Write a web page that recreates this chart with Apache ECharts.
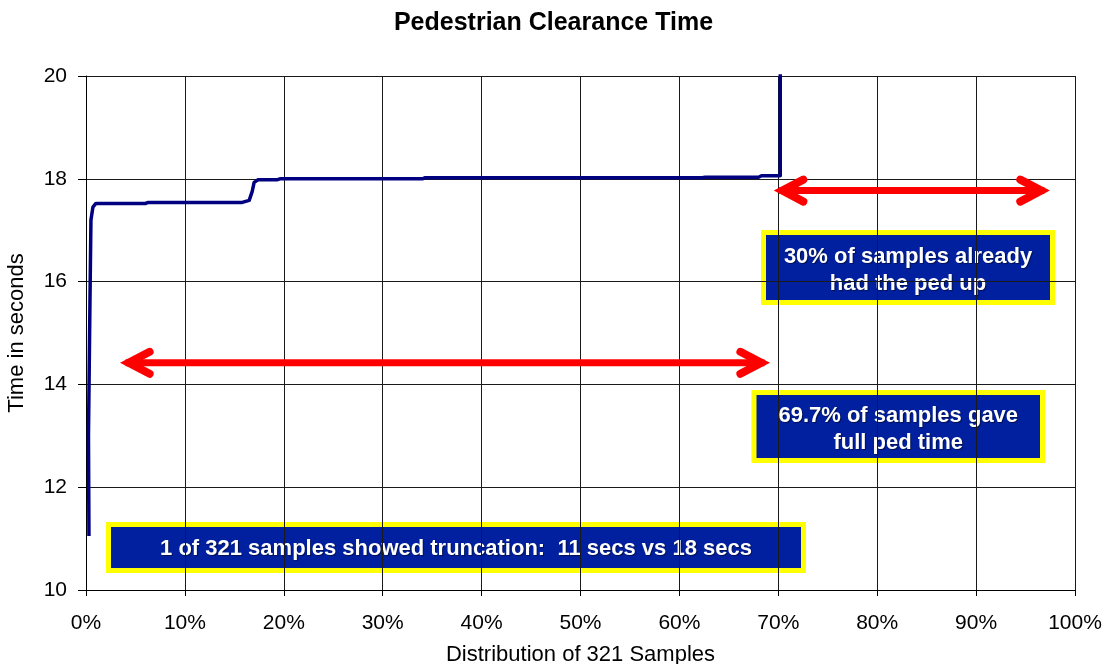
<!DOCTYPE html>
<html>
<head>
<meta charset="utf-8">
<title>Pedestrian Clearance Time</title>
<script src="https://cdn.jsdelivr.net/npm/echarts@6/dist/echarts.min.js"></script>
<style>
  html, body { margin: 0; padding: 0; background: #fff; }
  #chart { width: 1107px; height: 664px; }
</style>
</head>
<body>
<div id="chart"></div>
<script>
// Cumulative distribution of observed pedestrian clearance times
const pctSamples    = [0.3, 0.25, 0.4, 0.5, 0.7, 1.0, 6.0, 6.3, 15.8, 16.5, 16.8, 17.0, 17.4, 19.3, 19.6, 34.0, 34.3, 62.3, 62.6, 68.0, 68.3, 70.2, 70.2];
const clearanceSecs = [11.05, 13.0, 15.6, 17.2, 17.45, 17.52, 17.52, 17.54, 17.54, 17.58, 17.75, 17.93, 17.98, 17.98, 18.0, 18.0, 18.02, 18.02, 18.03, 18.03, 18.06, 18.06, 21.0];

// Axis ticks
const xTicks = [0, 10, 20, 30, 40, 50, 60, 70, 80, 90, 100];
const yTicks = [10, 12, 14, 16, 18, 20];

// Double-headed span arrows: start %, end %, height (s)
const arrowFrom = [3.4, 69.5];
const arrowTo   = [69.2, 97.5];
const arrowAt   = [14.42, 17.77];

// Callout texts
const noteUp    = '30% of samples already\nhad the ped up';
const noteFull  = '69.7% of samples gave\nfull ped time';
const noteTrunc = '1 of 321 samples showed truncation:  11 secs vs 18 secs';

const FONT = '"Liberation Sans", Arial, sans-serif';

const lineData = pctSamples.map((x, i) => [x, clearanceSecs[i]]);
const arrowData = arrowFrom.map((x, i) => [x, arrowTo[i], arrowAt[i]]);

function callout(x, y, w, h, text, dy) {
  return {
    type: 'group',
    z: 100,
    children: [
      {
        type: 'rect',
        shape: { x: x, y: y, width: w, height: h },
        style: { fill: '#0020a0', stroke: '#ffff00', lineWidth: 5 }
      },
      {
        type: 'text',
        x: x + w / 2,
        y: y + h / 2 + dy,
        style: {
          text: text,
          fill: '#ffffff',
          font: 'bold 22px ' + FONT,
          align: 'center',
          verticalAlign: 'middle',
          lineHeight: 27,
          textShadowColor: 'rgba(0,0,0,0.5)',
          textShadowBlur: 1,
          textShadowOffsetX: 1,
          textShadowOffsetY: 1
        }
      }
    ]
  };
}

function renderArrow(params, api) {
  const a = api.coord([api.value(0), api.value(2)]);
  const b = api.coord([api.value(1), api.value(2)]);
  const red = '#ff0000';
  const tipIn = 9, armLen = 30, armH = 11;
  const head = (tx, ty, dir) => ({
    type: 'polyline',
    shape: { points: [
      [tx + dir * armLen, ty - armH],
      [tx + dir * tipIn, ty],
      [tx + dir * armLen, ty + armH]
    ] },
    style: { stroke: red, lineWidth: 8, lineCap: 'round', lineJoin: 'miter', miterLimit: 10, fill: null }
  });
  return {
    type: 'group',
    children: [
      {
        type: 'line',
        shape: { x1: a[0] + 6, y1: a[1], x2: b[0] - 6, y2: b[1] },
        style: { stroke: red, lineWidth: 7 }
      },
      head(a[0], a[1], 1),
      head(b[0], b[1], -1)
    ]
  };
}

const chart = echarts.init(document.getElementById('chart'));
chart.setOption({
  animation: false,
  backgroundColor: '#ffffff',
  title: {
    text: 'Pedestrian Clearance Time',
    left: 'center',
    top: 6,
    textStyle: { fontFamily: FONT, fontWeight: 'bold', fontSize: 25, color: '#000' }
  },
  grid: { left: 86, right: 32, top: 76, bottom: 74, containLabel: false, outerBoundsMode: 'none' },
  xAxis: {
    type: 'value',
    min: xTicks[0],
    max: xTicks[xTicks.length - 1],
    interval: xTicks[1] - xTicks[0],
    name: 'Distribution of 321 Samples',
    nameLocation: 'middle',
    nameGap: 54,
    nameTextStyle: { fontFamily: FONT, fontSize: 22, color: '#000' },
    axisLine: { show: true, lineStyle: { color: '#000', width: 1 } },
    axisTick: { show: true, length: 6, lineStyle: { color: '#000' } },
    axisLabel: { formatter: '{value}%', fontFamily: FONT, fontSize: 21, color: '#000', margin: 23 },
    splitLine: { show: true, lineStyle: { color: '#1a1a1a', width: 1 } }
  },
  yAxis: {
    type: 'value',
    min: yTicks[0],
    max: yTicks[yTicks.length - 1],
    interval: yTicks[1] - yTicks[0],
    name: 'Time in seconds',
    nameLocation: 'middle',
    nameGap: 58,
    nameTextStyle: { fontFamily: FONT, fontSize: 22, color: '#000' },
    axisLine: { show: true, lineStyle: { color: '#000', width: 1 } },
    axisTick: { show: true, length: 8, lineStyle: { color: '#000' } },
    axisLabel: { fontFamily: FONT, fontSize: 21, color: '#000', margin: 19 },
    splitLine: { show: true, lineStyle: { color: '#1a1a1a', width: 1 } }
  },
  series: [
    {
      type: 'line',
      data: lineData,
      showSymbol: false,
      clip: true,
      lineStyle: { color: '#000080', width: 3.5, join: 'round' },
      z: 3
    },
    {
      type: 'custom',
      data: arrowData,
      encode: { x: [0, 1], y: 2 },
      renderItem: renderArrow,
      clip: false,
      z: 4
    }
  ],
  graphic: [
    callout(763.5, 232.5, 289, 70, noteUp, 3),
    callout(754, 392.5, 288.5, 68, noteFull, 3),
    callout(108.5, 524.5, 695, 46, noteTrunc, 1)
  ]
});
</script>
</body>
</html>
